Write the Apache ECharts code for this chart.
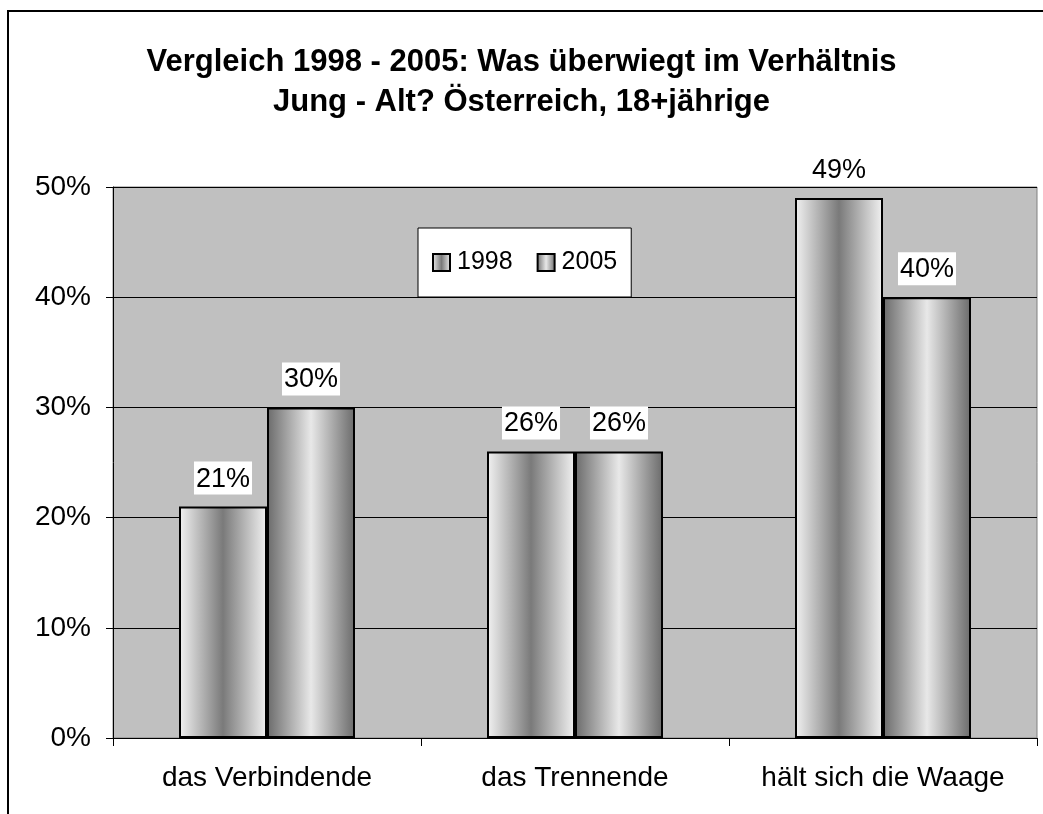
<!DOCTYPE html>
<html>
<head>
<meta charset="utf-8">
<script src="https://cdn.jsdelivr.net/npm/echarts@6/dist/echarts.min.js"></script>
<style>
  html, body { margin: 0; padding: 0; background: #fff; }
  #chart { width: 1043px; height: 814px; }
</style>
</head>
<body>
<div id="chart"></div>
<script>
const categories = ['das Verbindende', 'das Trennende', 'hält sich die Waage'];
const years = ['1998', '2005'];
const values1998 = [21, 26, 49];
const values2005 = [30, 26, 40];
const yTicks = [0, 10, 20, 30, 40, 50];

const FONT = '"Liberation Sans", Arial, sans-serif';

// 1998: light edges, dark middle; 2005: dark edges, light middle
const grad1998 = new echarts.graphic.LinearGradient(0, 0, 1, 0, [
  { offset: 0, color: '#f2f2f2' },
  { offset: 0.5, color: '#7a7a7a' },
  { offset: 1, color: '#f2f2f2' }
]);
const grad2005 = new echarts.graphic.LinearGradient(0, 0, 1, 0, [
  { offset: 0, color: '#6a6a6a' },
  { offset: 0.5, color: '#e8e8e8' },
  { offset: 1, color: '#6a6a6a' }
]);

const labelStyle = {
  show: true,
  position: 'top',
  distance: 12,
  formatter: '{c}%',
  fontFamily: FONT,
  fontSize: 27,
  color: '#000',
  backgroundColor: '#fff',
  padding: [4, 2, 2, 2]
};

const chart = echarts.init(document.getElementById('chart'));

const option = {
  backgroundColor: '#fff',
  animation: false,
  title: {
    text: 'Vergleich 1998 - 2005: Was überwiegt im Verhältnis\nJung - Alt? Österreich, 18+jährige',
    left: 'center',
    top: 37,
    textStyle: {
      fontFamily: FONT,
      fontSize: 31,
      fontWeight: 'bold',
      color: '#000',
      lineHeight: 40
    }
  },
  graphic: [
    {
      type: 'rect',
      z: -1,
      shape: { x: 8, y: 11, width: 1100, height: 900 },
      style: { fill: 'none', stroke: '#000', lineWidth: 2 }
    }
  ],
  legend: {
    data: years,
    left: 418,
    top: 228,
    orient: 'horizontal',
    backgroundColor: '#fff',
    borderColor: '#000',
    borderWidth: 1,
    padding: [22, 14, 22, 14],
    itemGap: 24,
    itemWidth: 17,
    itemHeight: 17,
    textStyle: { fontFamily: FONT, fontSize: 25, color: '#000', padding: [0, 0, 0, 2] },
    icon: 'rect'
  },
  grid: {
    left: 113,
    right: 6,
    top: 187,
    bottom: 76,
    show: true,
    backgroundColor: '#c0c0c0',
    borderColor: '#808080',
    borderWidth: 1
  },
  xAxis: {
    type: 'category',
    data: categories,
    axisLine: { show: true, lineStyle: { color: '#000', width: 1 } },
    axisTick: { show: true, length: 8, interval: 0, lineStyle: { color: '#000' } },
    axisLabel: { fontFamily: FONT, fontSize: 28, color: '#000', margin: 26, interval: 0, hideOverlap: false },
    splitLine: { show: false }
  },
  yAxis: {
    type: 'value',
    min: 0,
    max: 50,
    interval: 10,
    axisLine: { show: true, lineStyle: { color: '#000', width: 1 } },
    axisTick: { show: true, length: 7, lineStyle: { color: '#000' } },
    axisLabel: {
      fontFamily: FONT,
      fontSize: 28,
      color: '#000',
      margin: 22,
      formatter: function (v) { return yTicks.indexOf(v) >= 0 ? v + '%' : ''; }
    },
    splitLine: { show: true, lineStyle: { color: '#000', width: 1 } }
  },
  series: [
    {
      name: years[0],
      type: 'bar',
      data: values1998,
      barWidth: 88,
      barGap: '0%',
      itemStyle: { color: grad1998, borderColor: '#000', borderWidth: 2 },
      label: labelStyle
    },
    {
      name: years[1],
      type: 'bar',
      data: values2005,
      barWidth: 88,
      barGap: '0%',
      itemStyle: { color: grad2005, borderColor: '#000', borderWidth: 2 },
      label: labelStyle
    }
  ]
};

chart.setOption(option);
</script>
</body>
</html>
